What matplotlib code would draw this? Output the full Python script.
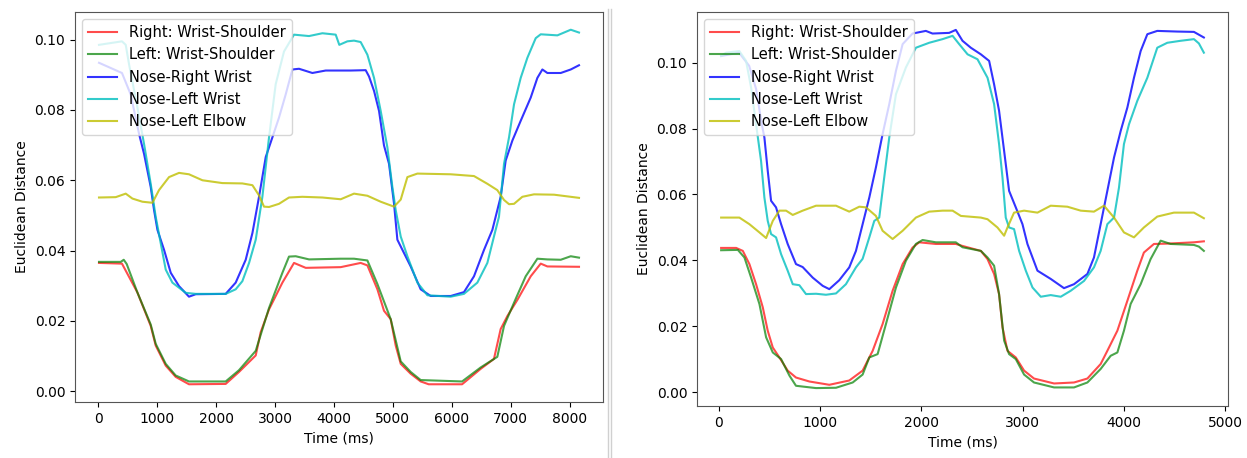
import matplotlib
matplotlib.use("Agg")
import matplotlib.pyplot as plt
from matplotlib.lines import Line2D

# Left recording (~8.2 s)
L_RIGHT_T = [10, 400, 662, 888, 973, 1143, 1312, 1538, 2161, 2387, 2671, 2755, 2897, 3124, 3321, 3520,
             4114, 4453, 4567, 4737, 4849, 4963, 5048, 5133, 5302, 5472, 5608, 6175, 6492, 6716, 6830,
             6944, 7114, 7340, 7510, 7623, 8160]
L_RIGHT_Y = [0.0365, 0.0363, 0.0281, 0.0186, 0.013, 0.0073, 0.0041, 0.0020, 0.0021, 0.0055, 0.0102,
             0.0168, 0.0233, 0.0309, 0.0365, 0.0351, 0.0353, 0.0365, 0.0358, 0.029, 0.0229, 0.0205,
             0.013, 0.0078, 0.005, 0.0028, 0.0020, 0.0020, 0.0064, 0.0092, 0.0177, 0.0214, 0.026,
             0.0327, 0.0363, 0.0355, 0.0354]

L_LEFT_T = [10, 380, 430, 480, 662, 888, 973, 1143, 1312, 1538, 2161, 2387, 2671, 2897, 3124, 3236,
            3350, 3576, 4114, 4340, 4567, 4737, 4963, 5048, 5133, 5302, 5472, 6175, 6492, 6773, 6887,
            7057, 7255, 7453, 7623, 7850, 8020, 8160]
L_LEFT_Y = [0.0368, 0.0368, 0.0374, 0.0362, 0.0281, 0.019, 0.0135, 0.0078, 0.0045, 0.0028, 0.0028,
            0.006, 0.0115, 0.0237, 0.0337, 0.0383, 0.0384, 0.0375, 0.0377, 0.0377, 0.0372, 0.0305,
            0.0205, 0.0145, 0.0085, 0.0055, 0.0032, 0.0028, 0.0068, 0.0098, 0.0186, 0.0252, 0.0327,
            0.0377, 0.0375, 0.0374, 0.0384, 0.038]

L_NRW_T = [10, 400, 548, 690, 775, 888, 945, 1002, 1115, 1228, 1369, 1538, 1652, 2161, 2331, 2501,
           2615, 2727, 2841, 2954, 3066, 3180, 3294, 3406, 3633, 3859, 4114, 4284, 4538, 4595, 4680,
           4765, 4849, 4934, 5019, 5076, 5189, 5302, 5472, 5642, 5982, 6207, 6377, 6547, 6689, 6830,
           6915, 7029, 7170, 7340, 7453, 7538, 7623, 7850, 8020, 8160]
L_NRW_Y = [0.0934, 0.0905, 0.0844, 0.0732, 0.0675, 0.0581, 0.0515, 0.0459, 0.0402, 0.0337, 0.0299,
           0.0269, 0.0276, 0.0277, 0.0309, 0.0374, 0.045, 0.0553, 0.0666, 0.0722, 0.0778, 0.0844,
           0.0915, 0.0917, 0.0905, 0.0912, 0.0912, 0.0912, 0.0913, 0.0895, 0.0854, 0.0797, 0.0699,
           0.0647, 0.0534, 0.0431, 0.0393, 0.0355, 0.029, 0.0271, 0.0271, 0.0282, 0.0327, 0.0402,
           0.0459, 0.0553, 0.0656, 0.0713, 0.0769, 0.0835, 0.0891, 0.0915, 0.0905, 0.0905, 0.0915,
           0.0927]

L_NLW_T = [10, 400, 464, 520, 662, 775, 888, 973, 1058, 1143, 1256, 1483, 1652, 2161, 2331, 2444,
           2558, 2671, 2784, 2897, 3010, 3151, 3321, 3576, 3803, 4029, 4090, 4227, 4340, 4453, 4567,
           4680, 4793, 4906, 4991, 5048, 5133, 5246, 5416, 5586, 5982, 6207, 6434, 6604, 6716, 6801,
           6887, 6972, 7057, 7170, 7283, 7425, 7510, 7793, 8020, 8160]
L_NLW_Y = [0.0985, 0.0995, 0.0985, 0.093, 0.0807, 0.0703, 0.059, 0.0496, 0.0421, 0.0346, 0.0309,
           0.028, 0.0277, 0.0277, 0.029, 0.0313, 0.0365, 0.0431, 0.0553, 0.0722, 0.0873, 0.0966,
           0.1014, 0.101, 0.1018, 0.1014, 0.0985, 0.0995, 0.0997, 0.0993, 0.0957, 0.0891, 0.0797,
           0.0694, 0.0581, 0.0515, 0.044, 0.0384, 0.0309, 0.0273, 0.0269, 0.0277, 0.0309, 0.0365,
           0.044, 0.0496, 0.0647, 0.0722, 0.0816, 0.0891, 0.0948, 0.1004, 0.1015, 0.1012, 0.1028,
           0.102]

L_NLE_T = [10, 294, 464, 577, 747, 917, 1029, 1199, 1369, 1538, 1766, 2105, 2444, 2615, 2727, 2812,
           2897, 3066, 3236, 3463, 3803, 4114, 4340, 4567, 4793, 5019, 5133, 5246, 5416, 5982, 6377,
           6604, 6773, 6887, 6972, 7057, 7198, 7396, 7736, 8160]
L_NLE_Y = [0.0551, 0.0552, 0.0562, 0.0548, 0.0539, 0.0536, 0.0572, 0.0609, 0.0621, 0.0617, 0.06,
           0.0592, 0.0591, 0.0586, 0.0557, 0.0525, 0.0524, 0.0533, 0.0551, 0.0553, 0.0551, 0.0546,
           0.0562, 0.0556, 0.0539, 0.0525, 0.0545, 0.0609, 0.0619, 0.0617, 0.0612, 0.059, 0.0572,
           0.0544, 0.0532, 0.0533, 0.0553, 0.056, 0.0559, 0.055]

# Right recording (~4.8 s)
R_RIGHT_T = [23, 171, 237, 302, 368, 434, 483, 533, 598, 680, 762, 894, 1091, 1288, 1420, 1519, 1617,
             1716, 1815, 1913, 1978, 2143, 2340, 2406, 2587, 2653, 2718, 2767, 2801, 2850, 2932, 3014,
             3112, 3310, 3507, 3639, 3770, 3836, 3935, 4034, 4132, 4197, 4296, 4428, 4691, 4789]
R_RIGHT_Y = [0.0438, 0.0438, 0.0429, 0.0389, 0.0328, 0.0258, 0.0187, 0.0136, 0.0106, 0.0066, 0.0045,
             0.0033, 0.0023, 0.0036, 0.0066, 0.0126, 0.0207, 0.0308, 0.0389, 0.0439, 0.0455, 0.045,
             0.045, 0.0444, 0.0429, 0.0404, 0.0359, 0.0298, 0.0197, 0.0126, 0.0106, 0.0066, 0.0042,
             0.0027, 0.003, 0.0042, 0.0086, 0.0126, 0.0187, 0.0278, 0.0369, 0.0424, 0.045, 0.0451,
             0.0455, 0.0458]

R_LEFT_T = [23, 188, 253, 319, 401, 467, 533, 615, 697, 762, 960, 1157, 1322, 1420, 1486, 1568, 1650,
            1749, 1847, 1946, 2012, 2143, 2340, 2406, 2587, 2653, 2718, 2767, 2817, 2866, 2932, 3014,
            3112, 3310, 3507, 3639, 3770, 3869, 3935, 4000, 4066, 4165, 4263, 4362, 4461, 4691, 4740,
            4789]
R_LEFT_Y = [0.0431, 0.0432, 0.0409, 0.0348, 0.0268, 0.0167, 0.0121, 0.0101, 0.0051, 0.002, 0.0013,
            0.0014, 0.003, 0.0054, 0.0106, 0.0116, 0.0207, 0.0318, 0.0399, 0.045, 0.0462, 0.0455,
            0.0455, 0.044, 0.0429, 0.0409, 0.0384, 0.0298, 0.0157, 0.0116, 0.0101, 0.0054, 0.003,
            0.0015, 0.0015, 0.003, 0.0071, 0.0111, 0.0121, 0.0187, 0.0268, 0.0328, 0.0404, 0.046,
            0.045, 0.0447, 0.0442, 0.0429]

R_NRW_T = [23, 200, 300, 368, 420, 450, 483, 516, 565, 615, 680, 762, 828, 927, 1026, 1091, 1189, 1288,
           1354, 1420, 1486, 1551, 1617, 1683, 1749, 1815, 1913, 2044, 2110, 2274, 2340, 2406, 2488,
           2587, 2669, 2718, 2767, 2817, 2866, 2932, 2998, 3047, 3146, 3277, 3408, 3507, 3639, 3704,
           3770, 3836, 3902, 3968, 4034, 4099, 4165, 4231, 4329, 4527, 4691, 4789]
R_NRW_Y = [0.102, 0.103, 0.099, 0.092, 0.082, 0.0773, 0.0672, 0.0581, 0.0561, 0.051, 0.045, 0.0389,
           0.038, 0.0348, 0.0323, 0.0313, 0.034, 0.0379, 0.0429, 0.051, 0.0591, 0.0682, 0.0783,
           0.0874, 0.0975, 0.1056, 0.1088, 0.1096, 0.1088, 0.109, 0.1099, 0.1066, 0.1045, 0.1025,
           0.1005, 0.0934, 0.0854, 0.0732, 0.0611, 0.0561, 0.051, 0.045, 0.0369, 0.0344, 0.0316,
           0.0328, 0.0359, 0.0409, 0.051, 0.0611, 0.0712, 0.0793, 0.0864, 0.0954, 0.1035, 0.1086,
           0.1096, 0.1094, 0.1093, 0.1076]

R_NLW_T = [23, 72, 203, 269, 319, 368, 417, 450, 483, 516, 565, 615, 680, 730, 795, 861, 960, 1058,
           1157, 1255, 1354, 1420, 1486, 1535, 1584, 1633, 1683, 1749, 1847, 1946, 2077, 2209, 2308,
           2373, 2456, 2554, 2653, 2718, 2767, 2801, 2833, 2866, 2915, 2965, 3031, 3097, 3179, 3277,
           3376, 3474, 3606, 3704, 3770, 3836, 3902, 3951, 4000, 4050, 4132, 4231, 4329, 4428, 4559,
           4691, 4740, 4789]
R_NLW_Y = [0.102, 0.103, 0.1035, 0.1005, 0.0924, 0.0813, 0.0702, 0.0591, 0.052, 0.048, 0.047,
           0.0419, 0.0369, 0.0328, 0.0325, 0.0298, 0.0299, 0.0296, 0.03, 0.0328, 0.0379, 0.0405,
           0.047, 0.052, 0.053, 0.0651, 0.0773, 0.0904, 0.0985, 0.1045, 0.106, 0.1071, 0.1081,
           0.1056, 0.1025, 0.101, 0.0954, 0.0874, 0.0753, 0.0651, 0.053, 0.05, 0.0495, 0.0429,
           0.0369, 0.0318, 0.029, 0.0295, 0.029, 0.0308, 0.0338, 0.0379, 0.0429, 0.051, 0.053,
           0.0621, 0.0753, 0.0813, 0.0884, 0.0954, 0.1045, 0.106, 0.1066, 0.1071, 0.1058, 0.103]

R_NLE_T = [23, 203, 302, 401, 467, 533, 598, 664, 730, 828, 960, 1157, 1288, 1387, 1453, 1551, 1617,
           1716, 1815, 1946, 2077, 2209, 2308, 2390, 2587, 2653, 2751, 2817, 2850, 2915, 3014, 3146,
           3277, 3441, 3573, 3704, 3803, 3902, 4000, 4099, 4197, 4329, 4493, 4691, 4789]
R_NLE_Y = [0.053, 0.053, 0.051, 0.0485, 0.0468, 0.052, 0.0551, 0.0551, 0.0538, 0.0551, 0.0566,
           0.0566, 0.0548, 0.0563, 0.0561, 0.0535, 0.049, 0.0465, 0.049, 0.053, 0.0548, 0.0551,
           0.0551, 0.0535, 0.053, 0.0525, 0.05, 0.0475, 0.05, 0.0545, 0.0551, 0.0545, 0.0566,
           0.0563, 0.0551, 0.0548, 0.0566, 0.053, 0.0485, 0.047, 0.05, 0.0533, 0.0545, 0.0545,
           0.0528]

LABELS = ["Right: Wrist-Shoulder", "Left: Wrist-Shoulder", "Nose-Right Wrist",
          "Nose-Left Wrist", "Nose-Left Elbow"]
COLORS = ["r", "g", "b", "c", "y"]
ALPHAS = [0.7, 0.7, 0.8, 0.8, 0.8]

W, H = 1247, 458
plt.rcParams["font.size"] = 10

fig = plt.figure(figsize=(W / 100, H / 100), dpi=100)


def add_panel(rect_px, series):
    x0, y0, x1, y1 = rect_px
    ax = fig.add_axes([x0 / W, (H - y1) / H, (x1 - x0) / W, (y1 - y0) / H])
    for (t, y), label, color, alpha in zip(series, LABELS, COLORS, ALPHAS):
        ax.plot(t, y, color=color, alpha=alpha, linewidth=1.5, label=label)
    ax.set_xlabel("Time (ms)")
    ax.set_ylabel("Euclidean Distance")
    ax.legend(loc="upper left", fontsize=10.5)
    for sp in ax.spines.values():
        sp.set_color("#555555")
    return ax


add_panel((75, 12, 603, 402), [(L_RIGHT_T, L_RIGHT_Y), (L_LEFT_T, L_LEFT_Y), (L_NRW_T, L_NRW_Y),
                              (L_NLW_T, L_NLW_Y), (L_NLE_T, L_NLE_Y)])
ax2 = add_panel((697, 12, 1228, 406), [(R_RIGHT_T, R_RIGHT_Y), (R_LEFT_T, R_LEFT_Y), (R_NRW_T, R_NRW_Y),
                                       (R_NLW_T, R_NLW_Y), (R_NLE_T, R_NLE_Y)])
ax2.set_xticks([0, 1000, 2000, 3000, 4000, 5000])

# separator between the two screenshots
for xs in (607.5, 611):
    fig.add_artist(Line2D([xs / W, xs / W], [0, 1 - 9 / H], color="#d0d0d0", linewidth=1))

fig.savefig("out.png", dpi=100)
